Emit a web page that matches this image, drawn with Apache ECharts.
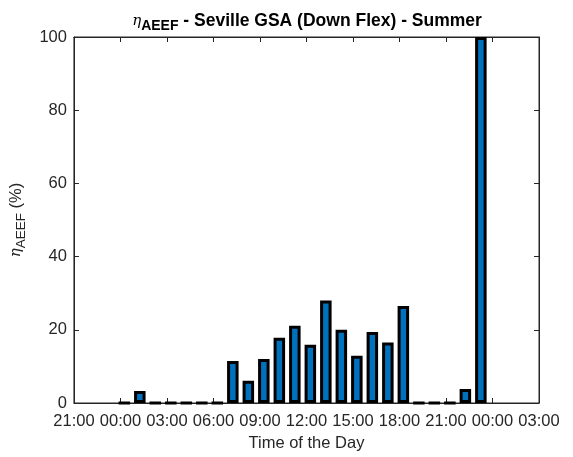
<!DOCTYPE html>
<html>
<head>
<meta charset="utf-8">
<script src="https://cdn.jsdelivr.net/npm/echarts@6/dist/echarts.min.js"></script>
<style>html,body{margin:0;padding:0;background:#fff}#c{width:573px;height:457px}</style>
</head>
<body>
<div id="c"></div>
<script>
// Bar times (hour of day, bars sit at quarter past each hour)
var barTimes = ["00:15","01:15","02:15","03:15","04:15","05:15","06:15","07:15","08:15","09:15","10:15","11:15",
                "12:15","13:15","14:15","15:15","16:15","17:15","18:15","19:15","20:15","21:15","22:15","23:15"];
// eta_AEEF (%)
var etaValues = [0, 3.3, 0, 0, 0, 0, 0, 11.5, 6.1, 12.0, 17.8, 21.1,
                 15.9, 28.0, 20.0, 12.9, 19.4, 16.5, 26.5, 0, 0, 0, 3.8, 100];
// x tick labels (hours relative to midnight: -3 .. 27)
var xTickLabels = ["21:00","00:00","03:00","06:00","09:00","12:00","15:00","18:00","21:00","00:00","03:00"];
var yTicks = [0, 20, 40, 60, 80, 100];

function toHours(s){ var p = s.split(":"); return +p[0] + (+p[1])/60; }
var data = barTimes.map(function(t,i){ return [toHours(t), etaValues[i]]; });

var txt = '#262626';
var font = '"Liberation Sans", Arial, sans-serif';
var fs = 16.5;
var chart = echarts.init(document.getElementById('c'), null, {renderer:'canvas'});
var axisCommon = {
  axisLine:{show:true, onZero:false, lineStyle:{color:txt, width:1}},
  axisTick:{show:true, inside:true, length:5, lineStyle:{color:txt, width:1}},
  splitLine:{show:false}
};
chart.setOption({
  animation:false,
  title:{
    text:'{eta|η}{sub|AEEF}{b| - Seville GSA (Down Flex) - Summer}',
    left:302, top:4, textAlign:'center',
    textStyle:{
      rich:{
        eta:{fontFamily:'"DejaVu Serif", serif', fontStyle:'italic', fontWeight:'normal', fontSize:15, color:'#000', verticalAlign:'middle', lineHeight:24},
        sub:{fontFamily:font, fontWeight:'bold', fontSize:14, color:'#000', verticalAlign:'bottom', lineHeight:13},
        b:{fontFamily:font, fontWeight:'bold', fontSize:17.5, color:'#000', verticalAlign:'middle', lineHeight:24}
      }
    }
  },
  grid:{left:71, right:34, top:37, bottom:54, show:true, borderColor:txt, borderWidth:1, backgroundColor:'#fff'},
  xAxis:[
    Object.assign({type:'value', min:-3, max:27, interval:3, position:'bottom',
      name:'Time of the Day', nameLocation:'middle', nameGap:32,
      nameTextStyle:{fontFamily:font, fontSize:fs, color:txt},
      axisLabel:{fontFamily:font, fontSize:fs, color:txt, margin:10,
        formatter:function(v){ var i = Math.round((v+3)/3); return xTickLabels[i] || ''; }}
    }, axisCommon),
    Object.assign({type:'value', min:-3, max:27, interval:3, position:'top', axisLabel:{show:false}}, axisCommon)
  ],
  yAxis:[
    Object.assign({type:'value', min:yTicks[0], max:yTicks[yTicks.length-1], interval:20, position:'left',
      name:'{eta|η}{sub|AEEF}{n| (%)}', nameLocation:'middle', nameGap:45, nameRotate:90,
      nameTextStyle:{rich:{
        eta:{fontFamily:'"DejaVu Serif", serif', fontStyle:'italic', fontSize:15, color:txt, verticalAlign:'middle', lineHeight:24},
        sub:{fontFamily:font, fontSize:13.5, color:txt, verticalAlign:'bottom', lineHeight:13},
        n:{fontFamily:font, fontSize:fs, color:txt, verticalAlign:'middle', lineHeight:24}
      }},
      axisLabel:{fontFamily:font, fontSize:fs, color:txt, margin:7}
    }, axisCommon),
    Object.assign({type:'value', min:0, max:100, interval:20, position:'right', axisLabel:{show:false}}, axisCommon)
  ],
  series:[{
    type:'bar', xAxisIndex:0, yAxisIndex:0,
    data:data, barWidth:11.5,
    itemStyle:{color:'#0072BD', borderColor:'#000', borderWidth:3}
  }]
});
</script>
</body>
</html>
